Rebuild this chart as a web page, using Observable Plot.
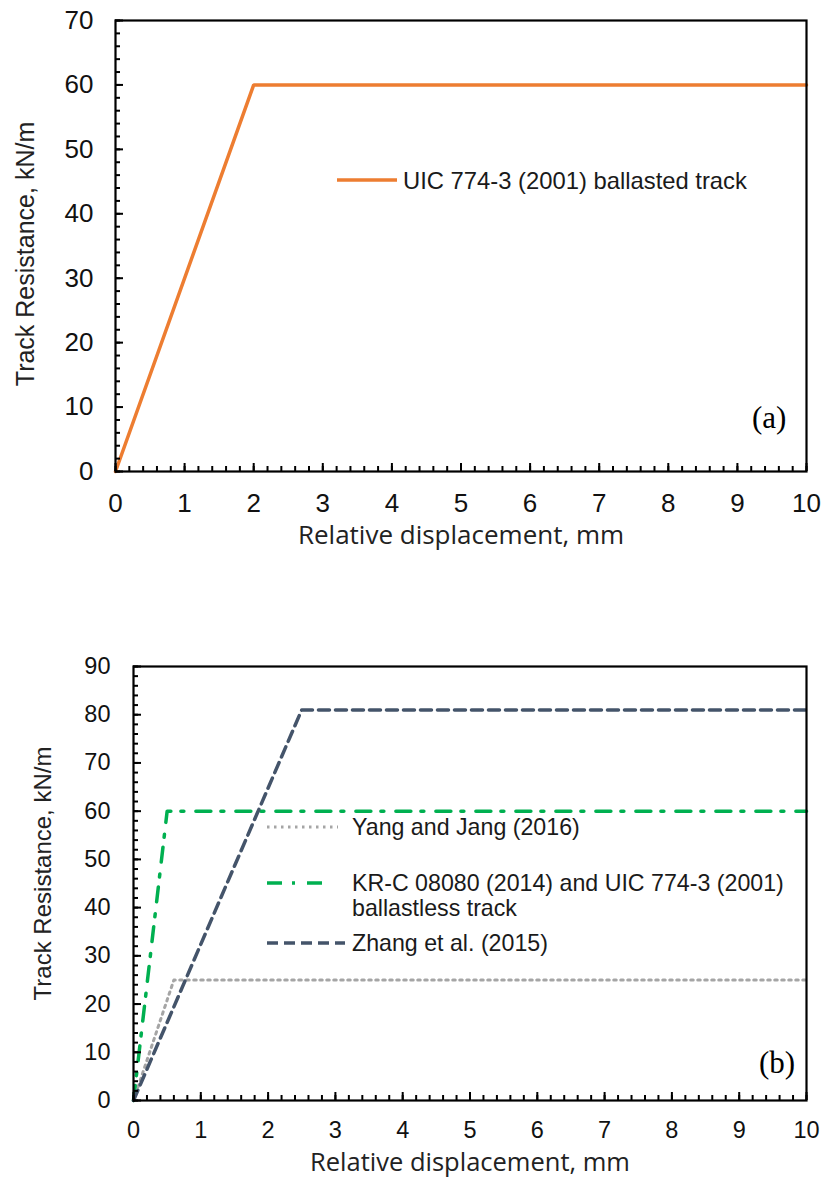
<!DOCTYPE html>
<html>
<head>
<meta charset="utf-8">
<script src="https://cdn.jsdelivr.net/npm/d3@7"></script>
<script src="https://cdn.jsdelivr.net/npm/@observablehq/plot@0.6"></script>
<style>
  body { margin: 0; background: #fff; }
  #page { position: relative; width: 823px; height: 1190px; overflow: hidden; background: #fff; }
  .panel { position: absolute; left: 0; }
  .legend { position: absolute; font-family: "Liberation Sans", Arial, sans-serif; color: #1a1a1a; }
  .legend .row { position: absolute; white-space: nowrap; }
  .legend svg { position: absolute; overflow: visible; }
  .tag { position: absolute; font-family: "Liberation Serif", "Times New Roman", serif; font-size: 31px; line-height: 32px; color: #000; }
</style>
</head>
<body>
<div id="page">
  <div id="chartA" class="panel" style="top:0"></div>
  <div id="chartB" class="panel" style="top:580px"></div>
</div>
<script>
// Panel (a): UIC 774-3 (2001) ballasted track resistance law
const dispA = [0, 2, 10];
const resA = [0, 60, 60];
const labelA = "UIC 774-3 (2001) ballasted track";

// Panel (b): three bilinear resistance laws
const labelYang = "Yang and Jang (2016)";
const dispYang = [0, 0.6, 10];
const resYang = [0, 25, 25];

const labelKrc = ["KR-C 08080 (2014) and UIC 774-3 (2001)", "ballastless track"];
const dispKrc = [0, 0.5, 10];
const resKrc = [0, 60, 60];

const labelZhang = "Zhang et al. (2015)";
const dispZhang = [0, 2.5, 10];
const resZhang = [0, 81, 81];

// Axis ticks
const xMajor = d3.range(0, 11, 1);
const xMinor = d3.range(0, 10.001, 0.2).map(v => +v.toFixed(1));
const yMajorA = d3.range(0, 71, 10);
const yMinorA = d3.range(0, 71, 2);
const yMajorB = d3.range(0, 91, 10);
const yMinorB = d3.range(0, 91, 2);

const xTitle = "Relative displacement, mm";
const yTitle = "Track Resistance, kN/m";

const styles = {
  orange: { stroke: "#ED7D31", strokeWidth: 3.5 },
  yang: { stroke: "#A5A5A5", strokeWidth: 3, strokeDasharray: "2.5,4.5" },
  krc: { stroke: "#00B050", strokeWidth: 3.5, strokeDasharray: "15,10,3,12" },
  zhang: { stroke: "#44546A", strokeWidth: 3.5, strokeDasharray: "11,6" }
};

const rows = (xs, ys) => xs.map((x, i) => ({ x, y: ys[i] }));
const blank = () => "";

// Inward-pointing ticks, tick labels, axis titles and the box frame
function axes(o) {
  return [
    Plot.axisX(xMinor, { tickSize: 5, dy: -5, tickFormat: blank, strokeWidth: 2, label: null }),
    Plot.axisX(xMajor, { tickSize: 8, dy: -8, tickFormat: blank, strokeWidth: 2, label: null }),
    Plot.axisX(xMajor, { tickSize: 0, tickPadding: o.xPad, label: null,
      fontSize: o.tickFont, fontFamily: "Liberation Sans", fill: "#111" }),
    Plot.axisY(o.yMinor, { tickSize: 5, dx: 5, tickFormat: blank, strokeWidth: 2, label: null }),
    Plot.axisY(o.yMajor, { tickSize: 8, dx: 8, tickFormat: blank, strokeWidth: 2, label: null }),
    Plot.axisY(o.yMajor, { tickSize: 0, tickPadding: o.yPad, label: null,
      fontSize: o.tickFont, fontFamily: "Liberation Sans", fill: "#111" }),
    Plot.text([xTitle], { text: d => d, frameAnchor: "bottom", dy: o.xTitleDy,
      fontFamily: "Open Sans", fontSize: o.xTitleFont, fill: "#222" }),
    Plot.text([yTitle], { text: d => d, frameAnchor: "left", textAnchor: "middle", rotate: -90,
      dx: o.yTitleDx, dy: o.yTitleDy, fontFamily: "Liberation Sans", fontSize: o.yTitleFont, fill: "#222" }),
    Plot.frame({ stroke: "#000", strokeWidth: 2.2 })
  ];
}

const chartA = Plot.plot({
  width: 823,
  height: 580,
  marginLeft: 115,
  marginRight: 17,
  marginTop: 20,
  marginBottom: 109,
  style: { background: "transparent", color: "#000", fontFamily: "Liberation Sans" },
  x: { domain: [0, 10] },
  y: { domain: [0, 70] },
  marks: [
    Plot.line(rows(dispA, resA), { x: "x", y: "y", ...styles.orange, strokeLinejoin: "miter" }),
    ...axes({ yMajor: yMajorA, yMinor: yMinorA, tickFont: 26, xPad: 22, yPad: 22,
      xTitleFont: 26, xTitleDy: 72, yTitleFont: 25, yTitleDx: -90, yTitleDy: 8 })
  ]
});
document.getElementById("chartA").append(chartA);

const chartB = Plot.plot({
  width: 823,
  height: 610,
  marginLeft: 133,
  marginRight: 17,
  marginTop: 86,
  marginBottom: 90,
  style: { background: "transparent", color: "#000", fontFamily: "Liberation Sans" },
  x: { domain: [0, 10] },
  y: { domain: [0, 90] },
  marks: [
    Plot.line(rows(dispYang, resYang), { x: "x", y: "y", ...styles.yang }),
    Plot.line(rows(dispKrc, resKrc), { x: "x", y: "y", ...styles.krc }),
    Plot.line(rows(dispZhang, resZhang), { x: "x", y: "y", ...styles.zhang }),
    ...axes({ yMajor: yMajorB, yMinor: yMinorB, tickFont: 23.5, xPad: 21, yPad: 23,
      xTitleFont: 25.5, xTitleDy: 70, yTitleFont: 24, yTitleDx: -90, yTitleDy: -10 })
  ]
});
document.getElementById("chartB").append(chartB);

// Legends and panel tags
const page = document.getElementById("page");
function swatch(x1, x2, y, st) {
  const s = d3.create("svg").attr("width", 1).attr("height", 1)
    .style("left", "0px").style("top", "0px");
  s.append("line").attr("x1", x1).attr("x2", x2).attr("y1", y).attr("y2", y)
    .attr("stroke", st.stroke).attr("stroke-width", st.strokeWidth)
    .attr("stroke-dasharray", st.strokeDasharray || null);
  return s.node();
}
function legend(items, fontSize) {
  const div = document.createElement("div");
  div.className = "legend";
  div.style.left = "0px"; div.style.top = "0px";
  div.style.fontSize = fontSize + "px";
  div.style.lineHeight = "25px";
  for (const it of items) {
    div.append(swatch(it.x1, it.x2, it.y, it.style));
    it.lines.forEach((t, i) => {
      const r = document.createElement("div");
      r.className = "row";
      r.textContent = t;
      r.style.left = it.tx + "px";
      r.style.top = (it.y - 12.5 + i * 25) + "px";
      div.append(r);
    });
  }
  page.append(div);
}
legend([
  { x1: 337, x2: 397, y: 180, tx: 403, lines: [labelA], style: styles.orange }
], 23.8);
legend([
  { x1: 267, x2: 338, y: 827, tx: 352, lines: [labelYang], style: styles.yang },
  { x1: 267, x2: 330, y: 883, tx: 352, lines: labelKrc, style: styles.krc },
  { x1: 267, x2: 345, y: 943, tx: 352, lines: [labelZhang], style: styles.zhang }
], 23.2);
function tag(text, left, top) {
  const t = document.createElement("div");
  t.className = "tag"; t.textContent = text;
  t.style.left = left + "px"; t.style.top = top + "px";
  page.append(t);
}
tag("(a)", 752, 402);
tag("(b)", 759, 1047);
</script>
</body>
</html>
